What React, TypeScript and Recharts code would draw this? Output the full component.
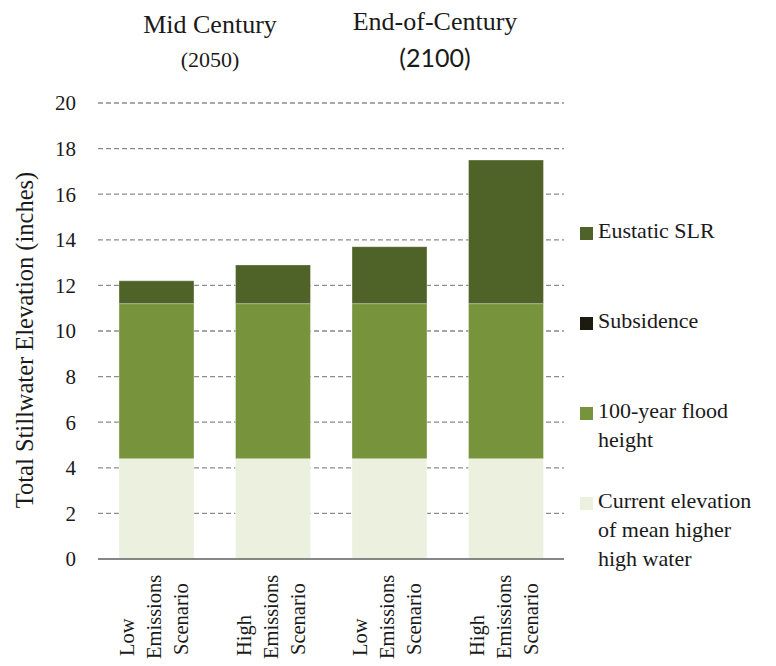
import React from "react";
import {
  BarChart,
  Bar,
  XAxis,
  YAxis,
  CartesianGrid,
  Label,
} from "recharts";

// scenario names, one row of text per line under each bar
const scenarioLines = [
  ["Low", "Emissions", "Scenario"],
  ["High", "Emissions", "Scenario"],
  ["Low", "Emissions", "Scenario"],
  ["High", "Emissions", "Scenario"],
];

// stacked components, inches (bottom to top)
const currentMhhw = [4.4, 4.4, 4.4, 4.4];
const floodHeight = [6.8, 6.8, 6.8, 6.8];
const subsidence = [0, 0, 0, 0];
const eustaticSlr = [1.0, 1.7, 2.5, 6.3];

const yTicks = [0, 2, 4, 6, 8, 10, 12, 14, 16, 18, 20];

const periods = [
  { name: "Mid Century", year: "(2050)" },
  { name: "End-of-Century", year: "(2100)" },
];

const series = [
  { key: "current", label: ["Current elevation", "of mean higher", "high water"], color: "#ebf1de" },
  { key: "flood", label: ["100-year flood", "height"], color: "#77933c" },
  { key: "subsidence", label: ["Subsidence"], color: "#1d1b10" },
  { key: "eustatic", label: ["Eustatic SLR"], color: "#4f6228" },
];

const data = scenarioLines.map((lines, i) => ({
  scenario: lines.join(" "),
  current: currentMhhw[i],
  flood: floodHeight[i],
  subsidence: subsidence[i],
  eustatic: eustaticSlr[i],
}));

const SERIF = "'Liberation Serif', 'Times New Roman', serif";

// each line is rotated to read upward, starting near the bottom edge
const lineOffsets = [
  { dx: -22, start: 97 },
  { dx: 5, start: 100 },
  { dx: 32, start: 96 },
];

const ScenarioTick = (props: any) => {
  const { x, y, payload } = props;
  const lines = scenarioLines[payload.index] || [];
  return (
    <g>
      {lines.map((line, i) => {
        const tx = x + lineOffsets[i].dx;
        const ty = y + lineOffsets[i].start;
        return (
          <text
            key={i}
            x={tx}
            y={ty}
            transform={`rotate(-90, ${tx}, ${ty})`}
            textAnchor="start"
            fontFamily={SERIF}
            fontSize={20.5}
            fill="#1a1a1a"
          >
            {line}
          </text>
        );
      })}
    </g>
  );
};

// legend sits to the right of the plot, top entry first
const LegendBlock = () => (
  <div
    style={{
      position: "absolute",
      left: 578,
      top: 216,
      fontFamily: SERIF,
      fontSize: 22,
      lineHeight: "29px",
      color: "#1a1a1a",
    }}
  >
    {[...series].reverse().map((s) => (
      <div key={s.key} style={{ position: "relative", height: 90, paddingLeft: 20 }}>
        <span
          style={{
            position: "absolute",
            left: 2,
            top: 11,
            width: 13,
            height: 13,
            background: s.color,
          }}
        />
        {s.label.map((l) => (
          <div key={l} style={{ whiteSpace: "nowrap" }}>
            {l}
          </div>
        ))}
      </div>
    ))}
  </div>
);

export default function App() {
  return (
    <div
      style={{
        position: "absolute",
        left: 0,
        top: 0,
        width: 776,
        height: 666,
        background: "#ffffff",
        overflow: "hidden",
      }}
    >
      <div style={{ position: "absolute", left: 110, top: 8, width: 200, textAlign: "center", fontFamily: SERIF, color: "#1a1a1a" }}>
        <div style={{ fontSize: 26, lineHeight: "34px" }}>{periods[0].name}</div>
        <div style={{ fontSize: 22, lineHeight: "36px" }}>{periods[0].year}</div>
      </div>
      <div style={{ position: "absolute", left: 335, top: 5, width: 200, textAlign: "center", color: "#1a1a1a" }}>
        <div style={{ fontFamily: SERIF, fontSize: 26, lineHeight: "34px" }}>{periods[1].name}</div>
        <div style={{ fontFamily: "Lato, 'Noto Sans', sans-serif", fontSize: 25, lineHeight: "36px", fontWeight: 400 }}>
          {periods[1].year}
        </div>
      </div>

      <BarChart
        width={776}
        height={666}
        data={data}
        margin={{ top: 103, right: 212, bottom: 0, left: 0 }}
        barSize={75}
      >
        <CartesianGrid vertical={false} stroke="#8c8c8c" strokeWidth={1.3} strokeDasharray="5 3" />
        <XAxis
          dataKey="scenario"
          height={107}
          interval={0}
          tickLine={false}
          tickSize={0}
          tickMargin={0}
          axisLine={{ stroke: "#868686", strokeWidth: 2 }}
          tick={<ScenarioTick />}
        />
        <YAxis
          width={98}
          domain={[0, 20]}
          ticks={yTicks}
          interval={0}
          axisLine={false}
          tickLine={false}
          tickSize={0}
          tickMargin={22}
          tick={{ fontFamily: SERIF, fontSize: 21, fill: "#1a1a1a" }}
        >
          <Label
            value="Total Stillwater Elevation (inches)"
            angle={-90}
            position="insideLeft"
            offset={24}
            dy={9}
            style={{ textAnchor: "middle", fontFamily: SERIF, fontSize: 24.5, fill: "#1a1a1a" }}
          />
        </YAxis>
        {series.map((s) => (
          <Bar
            key={s.key}
            dataKey={s.key}
            stackId="total"
            fill={s.color}
            stroke="#ffffff"
            strokeOpacity={0.35}
            isAnimationActive={false}
          />
        ))}
      </BarChart>
      <LegendBlock />
    </div>
  );
}
